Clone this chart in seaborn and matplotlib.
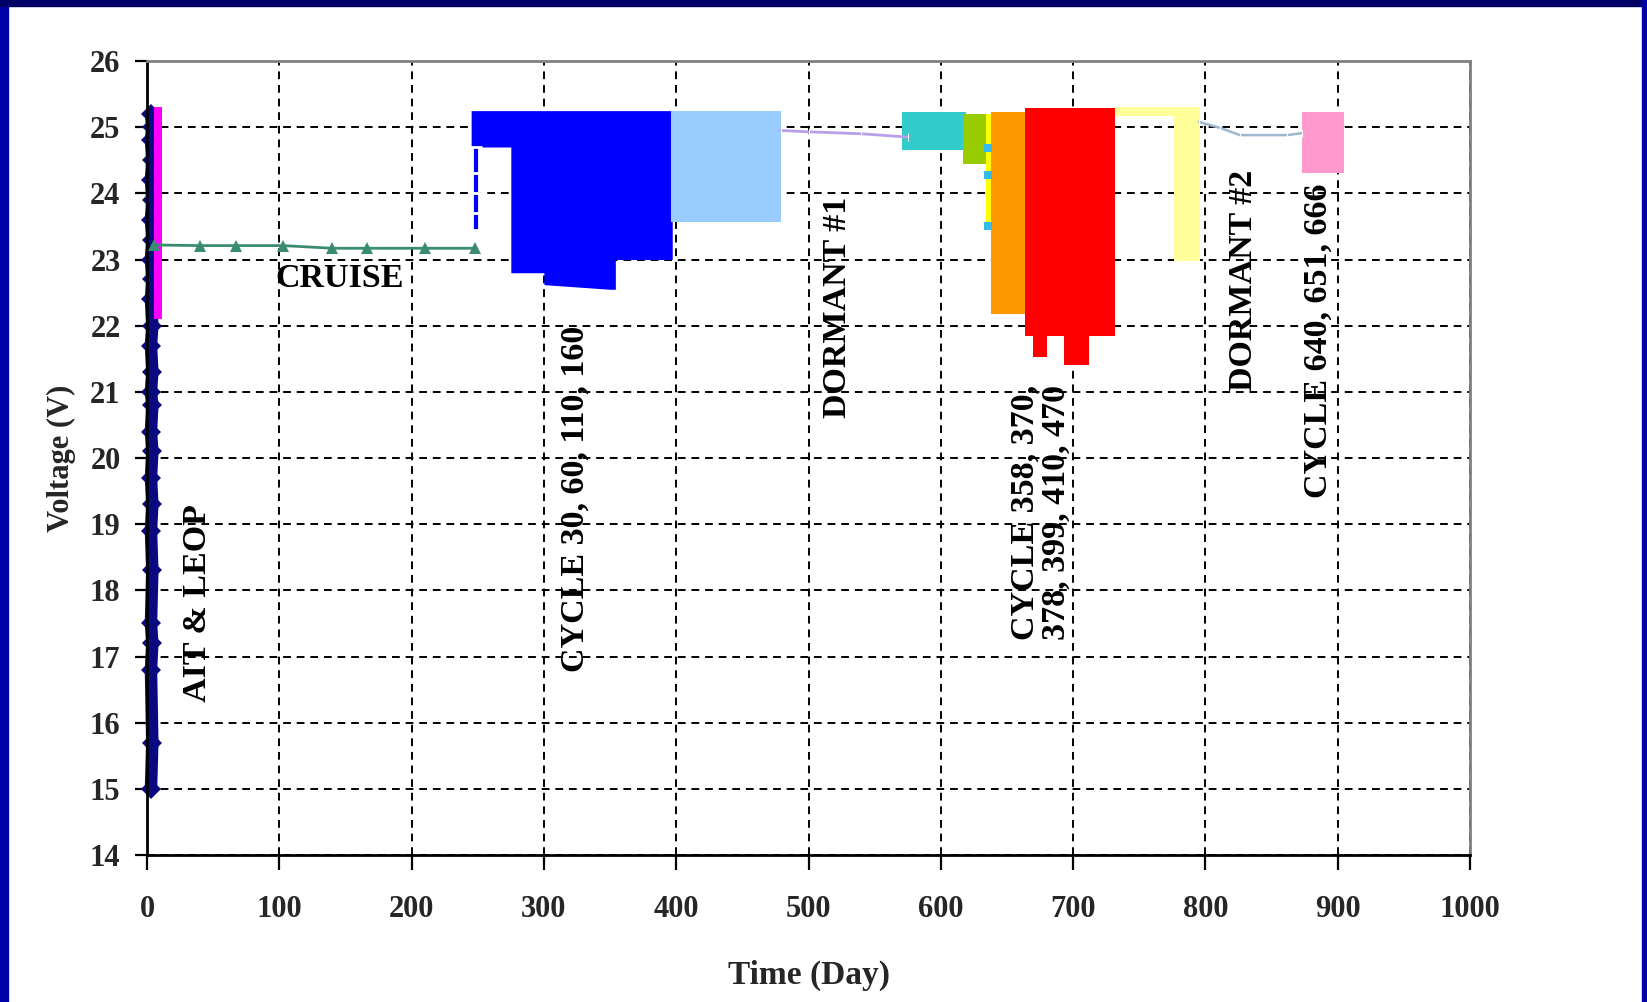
import matplotlib
matplotlib.use("Agg")
import matplotlib.pyplot as plt
import matplotlib.patches as mpatches
import seaborn as sns

# ---------------- data ----------------
# AIT & LEOP (navy, dense discharge trace near day 0)
ait_x = [3, 4, 3, 4, 3, 4, 3, 4, 3, 4, 3, 4, 3, 4, 3, 4, 3, 4, 3, 4, 3, 4, 3, 4, 3, 4, 3]
ait_y = [25.2, 25.0, 24.8, 24.5, 24.2, 23.9, 23.6, 23.3, 23.0, 22.7, 22.4, 22.0, 21.7,
         21.3, 21.0, 20.8, 20.4, 20.1, 19.7, 19.3, 18.9, 18.3, 17.5, 17.2, 16.8, 15.7, 15.0]

# magenta early cycling band
mag_x = [5, 11]
mag_lo = [22.1, 22.1]
mag_hi = [25.3, 25.3]

# Cruise (green line with triangles)
cruise_x = [5, 40, 67, 103, 140, 166, 210, 248]
cruise_y = [23.22, 23.21, 23.21, 23.21, 23.17, 23.17, 23.17, 23.17]

# Blue thin connection at ~day 248
blue_line_x = [248.5, 248.5, 248.5, 248.5, 248.5]
blue_line_y = [24.7, 24.3, 24.0, 23.7, 23.45]

# Cycling envelopes (x, lower, upper)
blue_x = [245, 275, 275, 300, 300, 350, 350, 354, 354, 397]
blue_lo = [24.7, 24.7, 22.8, 22.8, 22.62, 22.55, 22.55, 22.55, 23.0, 23.0]
blue_hi = [25.25] * 10

lblue_x = [396, 479]
lblue_lo = [23.57, 23.57]
lblue_hi = [25.24, 25.24]

teal_x = [571, 619]
teal_lo = [24.66, 24.66]
teal_hi = [25.23, 25.23]

ygreen_x = [617, 634]
ygreen_lo = [24.44, 24.44]
ygreen_hi = [25.2, 25.2]

yellow_x = [634, 639]
yellow_lo = [23.47, 23.47]
yellow_hi = [25.2, 25.2]

cyan_x = [636, 636, 636]
cyan_y = [24.69, 24.28, 23.5]

orange_x = [638, 668]
orange_lo = [22.18, 22.18]
orange_hi = [25.23, 25.23]

red_x = [664, 670, 670, 680, 680, 693, 693, 712, 712, 732]
red_lo = [21.84, 21.84, 21.53, 21.53, 21.84, 21.84, 21.4, 21.4, 21.84, 21.84]
red_hi = [25.29] * 10

lyel_top_x = [732, 776]
lyel_top_lo = [25.17, 25.17]
lyel_top_hi = [25.3, 25.3]
lyel_x = [776, 796]
lyel_lo = [22.97, 22.97]
lyel_hi = [25.3, 25.3]

pink_x = [873, 905]
pink_lo = [24.3, 24.3]
pink_hi = [25.23, 25.23]

# Dormant periods (lines)
dorm1_x = [479, 500, 540, 575]
dorm1_y = [24.95, 24.93, 24.9, 24.85]
dorm2_x = [795, 811, 826, 862, 873]
dorm2_y = [25.08, 24.99, 24.88, 24.88, 24.91]

x_ticks = [0, 100, 200, 300, 400, 500, 600, 700, 800, 900, 1000]
y_ticks = [14, 15, 16, 17, 18, 19, 20, 21, 22, 23, 24, 25, 26]

labels = [
    ("AIT & LEOP", 37.8, 17.81, 90),
    ("CRUISE", 145.6, 22.72, 0),
    ("CYCLE 30, 60, 110, 160", 324, 19.38, 90),
    ("DORMANT #1", 522, 22.28, 90),
    ("CYCLE 358, 370,\n378, 399, 410, 470", 675.6, 19.18, 90),
    ("DORMANT #2", 828.5, 22.69, 90),
    ("CYCLE 640, 651, 666", 885, 21.77, 90),
]

# ---------------- style ----------------
sns.set_style("white")
plt.rcParams["font.family"] = ["Liberation Serif", "DejaVu Serif"]
plt.rcParams["font.weight"] = "bold"

W, H = 1647, 1002
fig = plt.figure(figsize=(W / 100, H / 100), dpi=100)
fig.patch.set_facecolor("white")

# blue frame
fig.add_artist(mpatches.Rectangle((0, 0), 8 / W, 1, transform=fig.transFigure,
                                  color="#0000A8", zorder=0))
fig.add_artist(mpatches.Rectangle((0, 1 - 6 / H), 1, 6 / H, transform=fig.transFigure,
                                  color="#000066", zorder=0))
fig.add_artist(mpatches.Rectangle((1 - 5 / W, 0), 5 / W, 1, transform=fig.transFigure,
                                  color="#0000A8", zorder=0))

ax = fig.add_axes([147 / W, 1 - 855 / H, (1470 - 147) / W, (855 - 61) / H])
ax.set_facecolor("white")

ax.set_xlim(0, 1000)
ax.set_ylim(14, 26)
ax.set_xticks(x_ticks)
ax.set_yticks(y_ticks)

ax.set_axisbelow(True)
ax.grid(True, color="black", linestyle=(0, (4, 3)), linewidth=1.4)


def band(x, lo, hi, color, z=2):
    ax.fill_between(x, lo, hi, color=color, linewidth=0, zorder=z)


sns.lineplot(x=ait_x, y=ait_y, sort=False, estimator=None, color="#0A0A80",
             linewidth=9, linestyle="-", marker="D", markersize=10,
             markeredgewidth=0, ax=ax, zorder=2.5, clip_on=False)
band(mag_x, mag_lo, mag_hi, "#FF00FF", 3)
band(blue_x, blue_lo, blue_hi, "#0000FF")
sns.lineplot(x=blue_line_x, y=blue_line_y, sort=False, estimator=None, color="#0000FF",
             linewidth=3, linestyle="-", marker="_", markersize=9,
             markeredgewidth=2, ax=ax, zorder=3)
band(lblue_x, lblue_lo, lblue_hi, "#99CCFF")
band(teal_x, teal_lo, teal_hi, "#33CCCC")
band(ygreen_x, ygreen_lo, ygreen_hi, "#99CC00")
band(yellow_x, yellow_lo, yellow_hi, "#FFFF00")
sns.scatterplot(x=cyan_x, y=cyan_y, color="#33BBEE", marker="s", s=30, linewidth=0,
                ax=ax, zorder=4)
band(orange_x, orange_lo, orange_hi, "#FF9900")
band(red_x, red_lo, red_hi, "#FF0000", 3)
band(lyel_top_x, lyel_top_lo, lyel_top_hi, "#FFFF99")
band(lyel_x, lyel_lo, lyel_hi, "#FFFF99")
band(pink_x, pink_lo, pink_hi, "#FF99CC")

sns.lineplot(x=cruise_x, y=cruise_y, sort=False, estimator=None, color="#3A8C70",
             linewidth=2, linestyle="-", marker="^", markersize=8,
             markeredgewidth=0, ax=ax, zorder=5)
sns.lineplot(x=dorm1_x, y=dorm1_y, sort=False, estimator=None, color="#B8A0E8",
             linewidth=2, linestyle="-", marker="|", markersize=6, ax=ax, zorder=5)
sns.lineplot(x=dorm2_x, y=dorm2_y, sort=False, estimator=None, color="#9DB8D0",
             linewidth=1.8, linestyle="-", marker="|", markersize=6, ax=ax, zorder=5)

# annotations
for txt, x, y, rot in labels:
    ax.text(x, y, txt, rotation=rot, ha="center", va="center", fontsize=24.5,
            fontweight="bold", color="black", multialignment="left", zorder=6,
            linespacing=1.0)

# spines & ticks
for s in ["left", "bottom"]:
    ax.spines[s].set_color("black")
    ax.spines[s].set_linewidth(2)
for s in ["top", "right"]:
    ax.spines[s].set_color("#808080")
    ax.spines[s].set_linewidth(2)

ax.tick_params(axis="y", direction="out", length=9, width=1.6, color="black",
               labelsize=22, pad=10, left=True)
ax.tick_params(axis="x", direction="out", length=11, width=1.6, color="black",
               labelsize=22, pad=18, bottom=True)
for lab in ax.get_xticklabels() + ax.get_yticklabels():
    lab.set_fontweight("bold")

ax.set_xlabel("Time (Day)", fontsize=24, fontweight="bold", va="center")
ax.xaxis.set_label_coords(0.5, (855 - 975) / 794)
ax.set_ylabel("Voltage (V)", fontsize=22, fontweight="bold", va="center")
ax.yaxis.set_label_coords((61 - 147) / 1323, 0.5)

fig.savefig("out.png", dpi=100, facecolor="white")
